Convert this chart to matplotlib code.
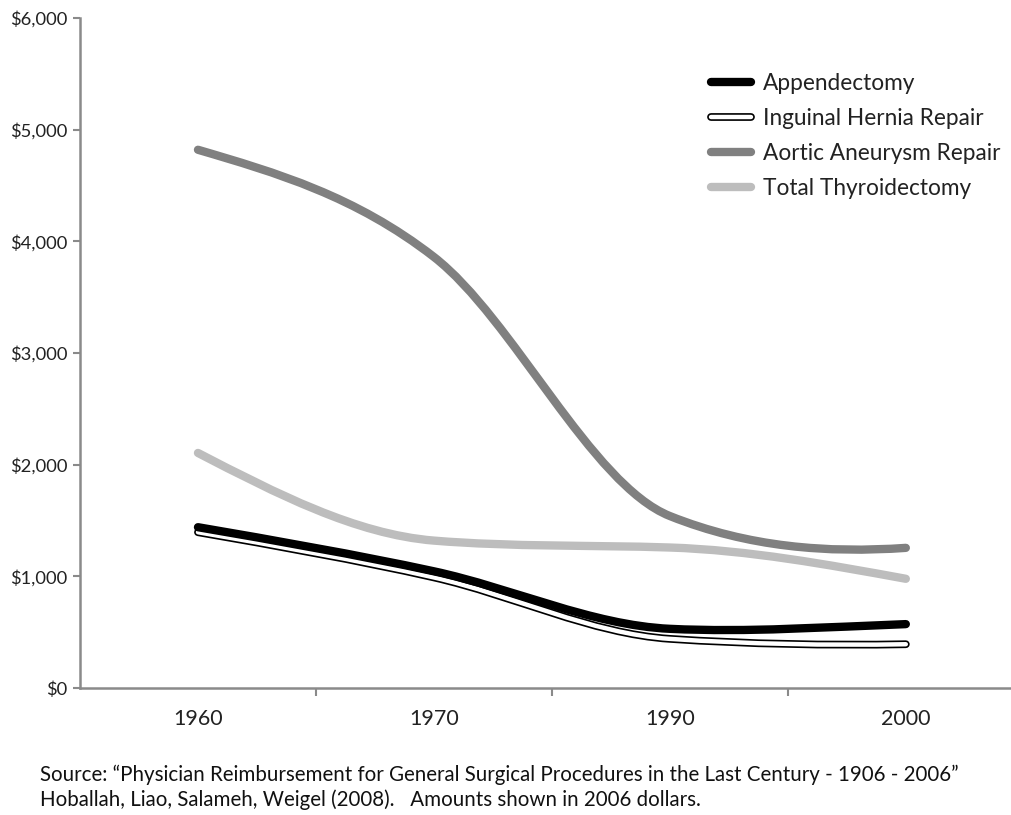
import numpy as np
import matplotlib
matplotlib.use("Agg")
import matplotlib.pyplot as plt
from matplotlib.path import Path
from matplotlib.patches import PathPatch
from matplotlib.lines import Line2D
import matplotlib.patheffects as pe

plt.rcParams['font.family'] = ['Lato', 'DejaVu Sans']

# data (2006 dollars)
years = ['1960', '1970', '1990', '2000']
appendectomy = [1440, 1045, 530, 572]
hernia = [1395, 990, 440, 392]
aortic = [4820, 3860, 1540, 1255]
thyroid = [2105, 1320, 1258, 978]
series_names = ['Appendectomy', 'Inguinal Hernia Repair',
                'Aortic Aneurysm Repair', 'Total Thyroidectomy']
yticks = [0, 1000, 2000, 3000, 4000, 5000, 6000]


def limit(m, d, i):
    # keep the curve from overshooting too much (Fritsch-Carlson style)
    if d == 0:
        return
    a = m[i] / d
    b = m[i + 1] / d
    s = a * a + b * b
    if s > 9:
        t = 3 / np.sqrt(s)
        m[i] *= t
        m[i + 1] *= t


def smooth_path(xs, ys):
    xs = np.asarray(xs, float)
    ys = np.asarray(ys, float)
    n = len(xs)
    d = np.diff(ys) / np.diff(xs)
    m = np.zeros(n)
    m[1:-1] = (ys[2:] - ys[:-2]) / (xs[2:] - xs[:-2])
    for i in range(1, n - 2):
        limit(m, d[i], i)
    m[0] = (3 * d[0] - m[1]) / 2
    m[-1] = (3 * d[-1] - m[-2]) / 2
    limit(m, d[0], 0)
    limit(m, d[-1], n - 2)
    verts = [(xs[0], ys[0])]
    codes = [Path.MOVETO]
    for i in range(n - 1):
        h = xs[i + 1] - xs[i]
        verts += [(xs[i] + h / 3, ys[i] + m[i] * h / 3),
                  (xs[i + 1] - h / 3, ys[i + 1] - m[i + 1] * h / 3),
                  (xs[i + 1], ys[i + 1])]
        codes += [Path.CURVE4] * 3
    return Path(verts, codes)


fig = plt.figure(figsize=(10.12, 8.15), dpi=100)
ax = fig.add_axes([80 / 1012, 127 / 815, 932 / 1012, 670 / 815])

x = np.arange(len(years))
styles = [
    dict(color='black', lw=6.0, effects=None),
    dict(color='white', lw=3.2,
         effects=[pe.Stroke(linewidth=5.6, foreground='black', capstyle='round'), pe.Normal()]),
    dict(color='#808080', lw=6.0, effects=None),
    dict(color='#bdbdbd', lw=6.0, effects=None),
]
data = [appendectomy, hernia, aortic, thyroid]

# draw back to front so the black pair sits on top
for k in [3, 2, 1, 0]:
    st = styles[k]
    p = PathPatch(smooth_path(x, data[k]), fill=False, edgecolor=st['color'],
                  lw=st['lw'], capstyle='round', joinstyle='round', zorder=3 + (3 - k))
    if st['effects']:
        p.set_path_effects(st['effects'])
    ax.add_patch(p)

ax.set_xlim(-0.5, 3.45)
ax.set_ylim(0, 6000)

ax.set_yticks(yticks)
ax.set_yticklabels(['${:,}'.format(v) for v in yticks])
ax.set_xticks(x)
ax.set_xticklabels(years)
ax.set_xticks([0.5, 1.5, 2.5], minor=True)

for s in ['top', 'right']:
    ax.spines[s].set_visible(False)
for s in ['left', 'bottom']:
    ax.spines[s].set_color('#8a8a8a')
    ax.spines[s].set_linewidth(1.8)

ax.tick_params(axis='y', direction='out', length=5, width=1.5, color='#8a8a8a',
               labelsize=13.2, labelcolor='#222222', pad=4)
ax.tick_params(axis='x', which='major', length=0, labelsize=15.5,
               labelcolor='#222222', pad=15)
ax.tick_params(axis='x', which='minor', direction='out', length=6, width=1.5,
               color='#8a8a8a')

handles = []
for k in range(4):
    st = styles[k]
    h = Line2D([], [], color=st['color'], lw=st['lw'], solid_capstyle='round')
    if st['effects']:
        h.set_path_effects(st['effects'])
    handles.append(h)

leg = ax.legend(handles, series_names, loc='upper left',
                bbox_to_anchor=(622 / 932, 1 - 46 / 670), frameon=False,
                fontsize=16.3, handlelength=1.75, handletextpad=0.55,
                labelspacing=0.62, borderaxespad=0)
for t in leg.get_texts():
    t.set_color('#222222')

fig.text(40 / 1012, 1 - 775 / 815,
         'Source: \u201cPhysician Reimbursement for General Surgical Procedures in the Last Century - 1906 - 2006\u201d',
         fontsize=14.8, color='#111111', va='center', ha='left')
fig.text(40 / 1012, 1 - 800 / 815,
         'Hoballah, Liao, Salameh, Weigel (2008).   Amounts shown in 2006 dollars.',
         fontsize=14.8, color='#111111', va='center', ha='left')

fig.savefig('out.png', dpi=100)
